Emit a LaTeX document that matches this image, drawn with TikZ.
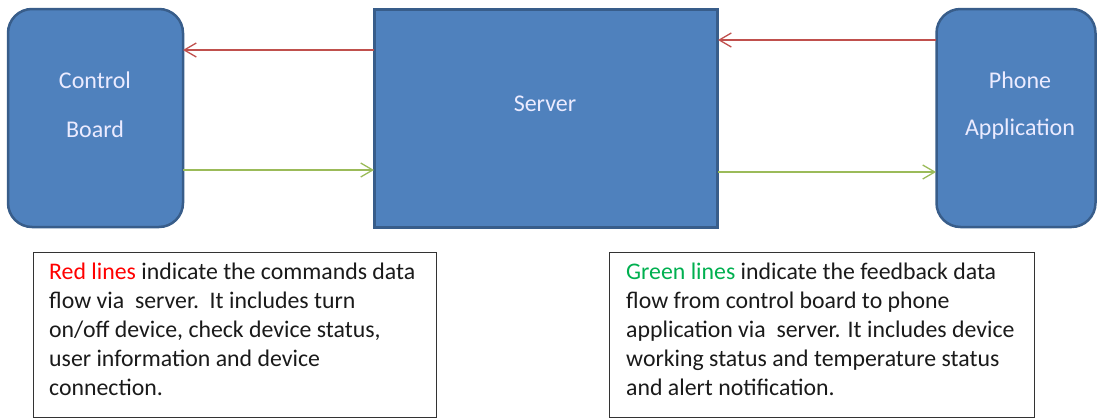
\documentclass[tikz,border=0pt]{standalone}
\usepackage{fontspec}
\setmainfont{Carlito}
\usetikzlibrary{arrows.meta}
\definecolor{boxfill}{HTML}{4F81BD}
\definecolor{boxline}{HTML}{385D8A}
\definecolor{redline}{HTML}{C0504D}
\definecolor{greenline}{HTML}{9BBB59}
\definecolor{redtext}{HTML}{FF0000}
\definecolor{greentext}{HTML}{00B050}
\definecolor{textcol}{HTML}{1A1A1A}
\begin{document}
\begin{tikzpicture}[x=1pt,y=-1pt,
  block/.style={draw=boxline, line width=2.5pt, fill=boxfill, inner sep=0pt},
  roundblock/.style={block, rounded corners=24pt},
  blabel/.style={text=white!92!blue, font=\fontsize{24}{26}\selectfont, inner sep=0pt},
  note/.style={draw=black!80, line width=1pt, fill=white, inner sep=0pt},
  notetext/.style={anchor=base west, align=left, inner sep=0pt, text=textcol,
     font=\fontsize{23.8}{29}\selectfont},
  flowarrow/.style={line width=1.3pt, -{Straight Barb[length=12pt,width=14pt,line width=1.3pt]}}
]
\useasboundingbox (0,0) rectangle (1097,418);
% boxes
\node[roundblock, minimum width=175pt, minimum height=218pt] (cb) at (95.5,118) {};
\node[block, minimum width=343pt, minimum height=218pt] (srv) at (546,118.5) {};
\node[roundblock, minimum width=159pt, minimum height=218pt] (ph) at (1016,118) {};
\node[blabel] (cbt1) at (95,80) {Control};
\node[blabel] (cbt2) at (95,129) {Board};
\node[blabel] (srvt) at (545,104) {Server};
\node[blabel] (pht1) at (1020,80) {Phone};
\node[blabel] (pht2) at (1020,129) {Application};
% connectors
\coordinate (a1s) at (374,50); \coordinate (a1e) at (183,50);
\coordinate (a2s) at (183,170); \coordinate (a2e) at (374,170);
\coordinate (a3s) at (936,40); \coordinate (a3e) at (718,40);
\coordinate (a4s) at (718,172); \coordinate (a4e) at (936,172);
\draw[flowarrow, redline] (a1s) -- (a1e);
\draw[flowarrow, greenline] (a2s) -- (a2e);
\draw[flowarrow, redline] (a3s) -- (a3e);
\draw[flowarrow, greenline] (a4s) -- (a4e);
% notes
\node[note, minimum width=403pt, minimum height=165pt, anchor=north west] (n1) at (33,252) {};
\node[note, minimum width=425pt, minimum height=165pt, anchor=north west] (n2) at (609,252) {};
\node[notetext] (n1t) at (49,395) {\textcolor{redtext}{Red lines} indicate the commands data\\
flow via\ \ server.\ \ It includes turn\\
on/off device, check device status,\\
user information and device\\
connection.};
\node[notetext] (n2t) at (626,395) {\textcolor{greentext}{Green lines} indicate the feedback data\\
flow from control board to phone\\
application via\ \ server. It includes device\\
working status and temperature status\\
and alert notification.};
\end{tikzpicture}
\end{document}
